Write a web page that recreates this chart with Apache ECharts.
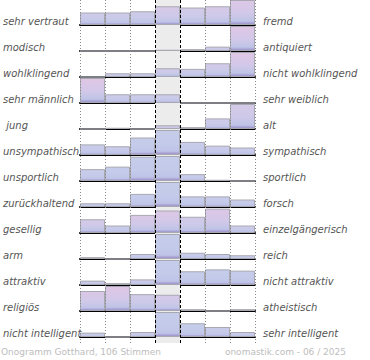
<!DOCTYPE html>
<html><head><meta charset="utf-8">
<script src="https://cdn.jsdelivr.net/npm/echarts@6/dist/echarts.min.js"></script>
<style>html,body{margin:0;padding:0;background:#fff}#c{width:370px;height:360px}</style>
</head><body><div id="c"></div>
<script>
// ---- data ----
const leftLabels = ['sehr vertraut','modisch','wohlklingend','sehr männlich',' jung','unsympathisch','unsportlich','zurückhaltend','gesellig','arm','attraktiv','religiös','nicht intelligent'];
const rightLabels = ['fremd','antiquiert','nicht wohlklingend','sehr weiblich','alt','sympathisch','sportlich','forsch','einzelgängerisch','reich','nicht attraktiv','atheistisch','sehr intelligent'];
const bins = ['1','2','3','4','5','6','7'];
// vote share per bin, percent
const row01 = [10, 10, 11, 15, 14, 15, 25];
const row02 = [0, 0, 0, 1, 1.5, 3.5, 94];
const row03 = [0, 3, 3, 7, 6.5, 11, 69.5];
const row04 = [79, 7, 7, 7, 0, 0, 0];
const row05 = [0, 1, 0, 3, 1.5, 8.5, 86];
const row06 = [8.5, 7, 14, 46.5, 10.5, 7.5, 6];
const row07 = [9.5, 11.5, 19.5, 53, 5.5, 1, 0];
const row08 = [3, 3, 10.5, 60.5, 8.5, 8.5, 6];
const row09 = [11, 6, 14.5, 18, 13, 19.5, 6];
const row10 = [1.5, 0, 4, 83, 5, 4, 3];
const row11 = [3.5, 1.5, 4.5, 55.5, 11, 12.5, 11.5];
const row12 = [16, 54.5, 13.5, 13, 1.5, 0, 1.5];
const row13 = [3.5, 0, 4, 69.5, 11, 8, 4];
// estimated share of female voters per bin (bar tint)
const fem01 = [0.3,0.3,0.3,0.7,0.5,0.7,0.9];
const fem02 = [0,0,0,0.5,0.5,0.5,1];
const fem03 = [0,0.3,0.3,0.5,0.3,0.5,1];
const fem04 = [1,0.3,0.3,0.3,0,0,0];
const fem05 = [0,0,0,0.8,0.3,0.4,0.6];
const fem06 = [0.2,0.2,0,0,0.1,0.2,0.2];
const fem07 = [0.1,0,0,0,0.2,0,0];
const fem08 = [0.2,0.2,0,0,0,0.1,0.1];
const fem09 = [0.6,0.2,0.8,0.9,0.5,0.9,0.3];
const fem10 = [0.3,0,0.2,0,0.2,0.2,0.2];
const fem11 = [0.3,0.5,0.3,0,0,0,0];
const fem12 = [0.8,1,0.5,0.6,0.3,0,0.3];
const fem13 = [0.3,0,0.3,0,0,0.1,0.1];
const footLeft = 'Onogramm Gotthard, 106 Stimmen';
const footRight = 'onomastik.com - 06 / 2025';

const rows = [row01,row02,row03,row04,row05,row06,row07,row08,row09,row10,row11,row12,row13];
const fems = [fem01,fem02,fem03,fem04,fem05,fem06,fem07,fem08,fem09,fem10,fem11,fem12,fem13];

// ---- layout ----
const PL = 80, PW = 175, FIRST_BASE = 25, PITCH = 26, RH = 25, YMAX = 20;

function hex(c){return [parseInt(c.substr(1,2),16),parseInt(c.substr(3,2),16),parseInt(c.substr(5,2),16)];}
function mix(a,b,t){const A=hex(a),B=hex(b);return 'rgb('+A.map((v,i)=>Math.round(v+(B[i]-v)*t)).join(',')+')';}
function barColor(f){
  return new echarts.graphic.LinearGradient(0,0,0,1,[
    {offset:0, color: mix('#c6cdeb','#e0c6e5',f)},
    {offset:0.5, color: mix('#c4cbea','#d4c8e8',f)},
    {offset:0.86, color:'#bfc4e7'},
    {offset:1, color:'#998bc8'}
  ]);
}

const grid=[], xAxis=[], yAxis=[], series=[];
rows.forEach((r,i)=>{
  grid.push({left:PL, width:PW, top:FIRST_BASE + i*PITCH - RH, height:RH});
  xAxis.push({gridIndex:i, type:'category', data:bins, boundaryGap:true,
    axisLine:{show:true, onZero:false, lineStyle:{color:'#000', width:2}},
    axisTick:{show:false}, axisLabel:{show:false}, splitLine:{show:false}});
  yAxis.push({gridIndex:i, type:'value', min:0, max:YMAX, show:false, splitLine:{show:false}});
  series.push({type:'bar', xAxisIndex:i, yAxisIndex:i, barWidth:'100%', barGap:'0%', barCategoryGap:'0%',
    clip:true, z:3, silent:true,
    itemStyle:{borderColor:'#a8a8b2', borderWidth:1},
    data:r.map((v,j)=>({value:Math.min(v,YMAX), itemStyle:{color:barColor(fems[i][j])}}))});
});

// label overlay grid
const LG = rows.length;
grid.push({left:PL, width:PW, top:FIRST_BASE - RH/2 - 4, height:PITCH*rows.length});
xAxis.push({gridIndex:LG, type:'value', min:0, max:1, show:false});
const labStyle = {fontSize:10, fontStyle:'italic', color:'#555', fontFamily:'DejaVu Sans'};
yAxis.push({gridIndex:LG, type:'category', data:leftLabels, inverse:true, position:'left',
  axisLine:{show:false}, axisTick:{show:false}, splitLine:{show:false},
  axisLabel:Object.assign({margin:PL, align:'left'}, labStyle)});
yAxis.push({gridIndex:LG, type:'category', data:rightLabels, inverse:true, position:'right',
  axisLine:{show:false}, axisTick:{show:false}, splitLine:{show:false},
  axisLabel:Object.assign({margin:8, align:'left'}, labStyle)});
series.push({type:'line', xAxisIndex:LG, yAxisIndex:LG, data:[], silent:true});
series.push({type:'line', xAxisIndex:LG, yAxisIndex:LG+1, data:[], silent:true});

// background grid: gray middle band, dotted / dashed column lines
const BG = LG + 1;
grid.push({left:PL, width:PW, top:0, height:343});
xAxis.push({gridIndex:BG, type:'value', min:0, max:7, show:false});
yAxis.push({gridIndex:BG, type:'value', min:0, max:1, show:false});
const yBG = LG + 2;
series.push({type:'line', xAxisIndex:BG, yAxisIndex:yBG, data:[[0,0]], symbol:'none', lineStyle:{opacity:0}, z:1, silent:true,
  markArea:{silent:true, itemStyle:{color:'#ececec'}, data:[[{xAxis:3},{xAxis:4}]]},
  markLine:{silent:true, symbol:['none','none'], label:{show:false},
    lineStyle:{color:'#8a8a8a', type:[1,2], width:1},
    data:[0,1,2,5,6,7].map(x=>({xAxis:x}))}});
series.push({type:'line', xAxisIndex:BG, yAxisIndex:yBG, data:[[0,0]], symbol:'none', lineStyle:{opacity:0}, z:10, silent:true,
  markLine:{silent:true, symbol:['none','none'], label:{show:false},
    lineStyle:{color:'#000', type:[3,2], width:1},
    data:[3,4].map(x=>({xAxis:x}))}});

const chart = echarts.init(document.getElementById('c'), null, {renderer:'svg', width:370, height:360});
chart.setOption({
  animation:false,
  backgroundColor:'#fff',
  title:[
    {text:footLeft, left:1, top:347, padding:0, textStyle:{fontSize:9, fontWeight:'normal', color:'#bdbdbd', fontFamily:'DejaVu Sans'}},
    {text:footRight, right:24, top:347, padding:0, textStyle:{fontSize:9, fontWeight:'normal', color:'#bdbdbd', fontFamily:'DejaVu Sans'}}
  ],
  grid, xAxis, yAxis, series
});
</script></body></html>
